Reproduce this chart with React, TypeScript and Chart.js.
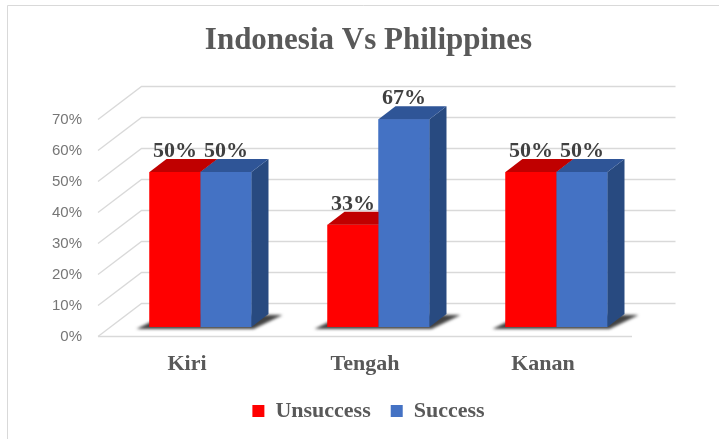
import React, { useEffect, useRef } from "react";
import { Chart, registerables } from "chart.js";

Chart.register(...registerables);

const titleText = "Indonesia Vs Philippines";
const categories = ["Kiri", "Tengah", "Kanan"];
const seriesNames = ["Unsuccess", "Success"];
const unsuccess = [0.5, 0.33, 0.5];
const success = [0.5, 0.67, 0.5];
const yTicks = [0, 0.1, 0.2, 0.3, 0.4, 0.5, 0.6, 0.7];

const frontColors = ["#FF0000", "#4472C4"];
const topColors = ["#C00000", "#2F5597"];
const sideColors = ["#A00000", "#284A80"];

const FRONT = { dx: -13.5, dy: 9.5 };
const BACK = { dx: 30, dy: -23.5 };
const DEPTH = { dx: 17, dy: -13 };

const serif = "'Liberation Serif', 'Times New Roman', serif";
const sans = "'Liberation Sans', Arial, sans-serif";

function barBox(bar: any) {
  const p = bar.getProps(["x", "y", "base", "width"], true);
  return { x0: p.x - p.width / 2, x1: p.x + p.width / 2, top: p.y, base: p.base, cx: p.x };
}

const plugin3d = {
  id: "threeD",
  beforeDraw(chart: any) {
    const ctx = chart.ctx;
    ctx.save();
    ctx.fillStyle = "#ffffff";
    ctx.fillRect(0, 0, chart.width, chart.height);
    ctx.strokeStyle = "#d9d9d9";
    ctx.lineWidth = 1;
    ctx.beginPath();
    ctx.moveTo(7.5, chart.height);
    ctx.lineTo(7.5, 5.5);
    ctx.lineTo(chart.width, 5.5);
    ctx.stroke();
    ctx.restore();
  },
  beforeDatasetsDraw(chart: any) {
    const ctx = chart.ctx;
    const a = chart.chartArea;
    const y = chart.scales.y;
    ctx.save();
    ctx.strokeStyle = "#d9d9d9";
    ctx.lineWidth = 1.3;
    for (const v of yTicks) {
      const py = y.getPixelForValue(v);
      ctx.beginPath();
      ctx.moveTo(a.left + FRONT.dx, py + FRONT.dy);
      ctx.lineTo(a.left + BACK.dx, py + BACK.dy);
      ctx.lineTo(a.right + BACK.dx, py + BACK.dy);
      ctx.stroke();
    }
    const p0 = y.getPixelForValue(0);
    ctx.beginPath();
    ctx.moveTo(a.left + FRONT.dx, p0 + FRONT.dy);
    ctx.lineTo(a.right + FRONT.dx, p0 + FRONT.dy);
    ctx.stroke();

    // floor shadows per category
    const m0 = chart.getDatasetMeta(0);
    const m1 = chart.getDatasetMeta(1);
    ctx.filter = "blur(1.5px)";
    ctx.fillStyle = "rgba(45,45,45,0.9)";
    for (let i = 0; i < categories.length; i++) {
      const b0 = barBox(m0.data[i]);
      const b1 = barBox(m1.data[i]);
      const x0 = Math.min(b0.x0, b1.x0);
      const x1 = Math.max(b0.x1, b1.x1);
      const yb = b0.base;
      ctx.beginPath();
      ctx.moveTo(x0 - 13, yb + 2);
      ctx.lineTo(x1 + 2, yb + 2);
      ctx.lineTo(x1 + DEPTH.dx + 14, yb + DEPTH.dy + 1);
      ctx.lineTo(x0 + DEPTH.dx, yb + DEPTH.dy);
      ctx.closePath();
      ctx.fill();
    }
    ctx.filter = "none";
    ctx.restore();
  },
  afterDatasetsDraw(chart: any) {
    const ctx = chart.ctx;
    ctx.save();
    // repaint bars in series order so later series sit in front of earlier sides
    chart.data.datasets.forEach((_ds: any, i: number) => {
      const meta = chart.getDatasetMeta(i);
      meta.data.forEach((bar: any) => {
        const b = barBox(bar);
        bar.draw(ctx, chart.chartArea);
        ctx.fillStyle = sideColors[i];
        ctx.beginPath();
        ctx.moveTo(b.x1, b.top);
        ctx.lineTo(b.x1 + DEPTH.dx, b.top + DEPTH.dy);
        ctx.lineTo(b.x1 + DEPTH.dx, b.base + DEPTH.dy);
        ctx.lineTo(b.x1, b.base);
        ctx.closePath();
        ctx.fill();
        ctx.fillStyle = topColors[i];
        ctx.beginPath();
        ctx.moveTo(b.x0, b.top);
        ctx.lineTo(b.x1, b.top);
        ctx.lineTo(b.x1 + DEPTH.dx, b.top + DEPTH.dy);
        ctx.lineTo(b.x0 + DEPTH.dx, b.top + DEPTH.dy);
        ctx.closePath();
        ctx.fill();
      });
    });
    ctx.font = `bold 22px ${serif}`;
    ctx.fillStyle = "#404040";
    ctx.textAlign = "center";
    ctx.textBaseline = "alphabetic";
    chart.data.datasets.forEach((ds: any, i: number) => {
      const meta = chart.getDatasetMeta(i);
      meta.data.forEach((bar: any, j: number) => {
        const b = barBox(bar);
        ctx.fillText(Math.round(ds.data[j] * 100) + "%", b.cx, b.top - 15);
      });
    });
    ctx.restore();
  },
};

export default function App() {
  const ref = useRef<HTMLCanvasElement>(null);
  useEffect(() => {
    if (!ref.current) return;
    const chart = new Chart(ref.current, {
      type: "bar",
      data: {
        labels: categories,
        datasets: [
          { label: seriesNames[0], data: unsuccess, backgroundColor: frontColors[0], borderWidth: 0, categoryPercentage: 0.573, barPercentage: 1 },
          { label: seriesNames[1], data: success, backgroundColor: frontColors[1], borderWidth: 0, categoryPercentage: 0.573, barPercentage: 1 },
        ],
      },
      options: {
        responsive: false,
        animation: false,
        devicePixelRatio: 1,
        layout: { padding: { left: 18, right: 0, top: 0, bottom: 7 } },
        plugins: {
          tooltip: { enabled: false },
          title: {
            display: true,
            text: titleText,
            color: "#595959",
            font: { family: serif, size: 31, weight: "bold" },
            padding: { top: 22.4, bottom: 50.4 },
          },
          legend: {
            position: "bottom",
            labels: {
              boxWidth: 12,
              boxHeight: 12,
              padding: 20,
              color: "#595959",
              font: { family: serif, size: 22, weight: "bold" },
            },
          },
        },
        scales: {
          x: {
            grid: { display: false, drawTicks: false },
            border: { display: false },
            ticks: {
              padding: 24,
              labelOffset: -13.5,
              color: "#595959",
              font: { family: serif, size: 22, weight: "bold" },
            },
            afterFit: (s: any) => { s.height = 53; },
          },
          y: {
            min: 0,
            max: 0.7,
            grid: { display: false, drawTicks: false },
            border: { display: false },
            afterBuildTicks: (s: any) => { s.ticks = yTicks.map((v) => ({ value: v })); },
            afterFit: (s: any) => { s.width = 93.5; },
            ticks: {
              padding: 29.5,
              labelOffset: 9.5,
              color: "#767676",
              font: { family: sans, size: 15 },
              callback: (v: any) => Math.round(Number(v) * 100) + "%",
            },
          },
          y2: {
            position: "right",
            grid: { display: false, drawTicks: false },
            border: { display: false },
            ticks: { display: false },
            afterFit: (s: any) => { s.width = 73.5; },
          },
        },
      } as any,
      plugins: [plugin3d],
    });
    return () => chart.destroy();
  }, []);
  return (
    <div style={{ position: "absolute", left: 0, top: 0, width: 719, height: 439 }}>
      <canvas ref={ref} width={719} height={439} style={{ display: "block" }} />
    </div>
  );
}
